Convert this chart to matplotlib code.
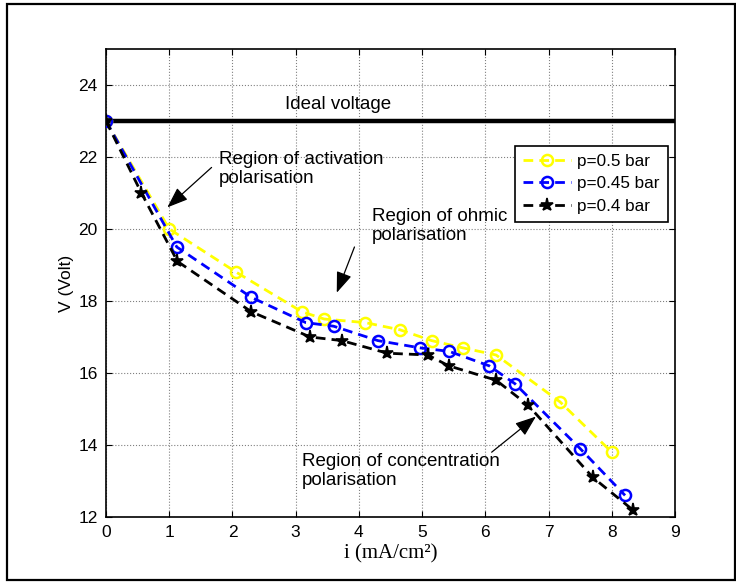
import matplotlib
matplotlib.use('Agg')
import matplotlib.pyplot as plt
from matplotlib.patches import Rectangle

# current density (mA/cm2) and stack voltage (V) at each pressure
i_p05 = [0, 1.0, 2.06, 3.1, 3.45, 4.1, 4.65, 5.15, 5.64, 6.17, 7.18, 8.0]
v_p05 = [23, 20.0, 18.8, 17.7, 17.5, 17.4, 17.2, 16.9, 16.7, 16.5, 15.2, 13.8]

i_p045 = [0, 1.12, 2.3, 3.16, 3.6, 4.3, 4.96, 5.43, 6.06, 6.47, 7.5, 8.21]
v_p045 = [23, 19.5, 18.1, 17.4, 17.3, 16.9, 16.7, 16.6, 16.2, 15.7, 13.9, 12.6]

i_p04 = [0, 0.56, 1.13, 2.3, 3.23, 3.73, 4.45, 5.09, 5.42, 6.17, 6.68, 7.7, 8.33]
v_p04 = [23, 21.0, 19.1, 17.7, 17.0, 16.9, 16.55, 16.5, 16.2, 15.8, 15.1, 13.1, 12.2]

ideal_voltage = 23
labels = ['p=0.5 bar', 'p=0.45 bar', 'p=0.4 bar']

plt.rcParams['font.family'] = ['Liberation Sans', 'DejaVu Sans']
plt.rcParams['font.size'] = 12.5

fig = plt.figure(figsize=(7.36, 5.83), dpi=100)
ax = fig.add_axes([106 / 736, 66 / 583, 569 / 736, 468 / 583])

# outer frame round the whole figure
fig.add_artist(Rectangle((7 / 736, 3 / 583), 728 / 736, 576 / 583,
                         transform=fig.transFigure, fill=False,
                         ec='black', lw=1.6))

dash = (0, (3.5, 2.2))
ax.plot([0, 9], [ideal_voltage, ideal_voltage], color='black', lw=3.2,
        solid_capstyle='butt', zorder=3)
ax.plot(i_p05, v_p05, color='yellow', ls=dash, lw=2, marker='o', ms=8,
        mfc='none', mew=1.8, label=labels[0], zorder=4)
ax.plot(i_p045, v_p045, color='blue', ls=dash, lw=2, marker='o', ms=8,
        mfc='none', mew=1.8, label=labels[1], zorder=5)
ax.plot(i_p04, v_p04, color='black', ls=dash, lw=2, marker='*', ms=9.5,
        mew=1.2, label=labels[2], zorder=6)

ax.set_xlim(0, 9)
ax.set_ylim(12, 25)
ax.set_xticks(range(0, 10))
ax.set_yticks(range(12, 25, 2))
ax.grid(True, color='gray', ls=':', lw=0.8)
ax.set_axisbelow(True)
ax.tick_params(direction='in', length=4, top=True, right=True,
               labelsize=12.5, pad=6)
for s in ax.spines.values():
    s.set_linewidth(1.2)

ax.set_ylabel('V (Volt)', fontsize=12.5, labelpad=3)
ax.set_xlabel('i (mA/cm²)', fontsize=15, family='Liberation Serif',
              labelpad=3)

ax.text(2.83, 23.45, 'Ideal voltage', fontsize=13.5, va='center', ha='left')

arrow = dict(arrowstyle='-|>,head_length=0.8,head_width=0.3',
             color='black', lw=0.9, mutation_scale=16, shrinkA=0, shrinkB=0)

ax.text(1.79, 21.67, 'Region of activation\npolarisation', fontsize=13.5,
        va='center', ha='left', linespacing=1.15)
ax.annotate('', xy=(0.97, 20.6), xytext=(1.67, 21.71), arrowprops=arrow)

ax.text(4.2, 20.08, 'Region of ohmic\npolarisation', fontsize=13.5,
        va='center', ha='left', linespacing=1.15)
ax.annotate('', xy=(3.65, 18.23), xytext=(3.93, 19.5), arrowprops=arrow)

ax.text(3.1, 13.27, 'Region of concentration\npolarisation', fontsize=13.5,
        va='center', ha='left', linespacing=1.15)
ax.annotate('', xy=(6.8, 14.79), xytext=(6.1, 13.8), arrowprops=arrow)

leg = ax.legend(loc='upper left', bbox_to_anchor=(0.719, 0.793),
                fontsize=12.3, frameon=True, fancybox=False,
                edgecolor='black', framealpha=1, borderaxespad=0,
                handlelength=2.8, handletextpad=0.4, borderpad=0.45,
                labelspacing=0.45)
leg.get_frame().set_linewidth(1.2)

fig.savefig('out.png', dpi=100)
